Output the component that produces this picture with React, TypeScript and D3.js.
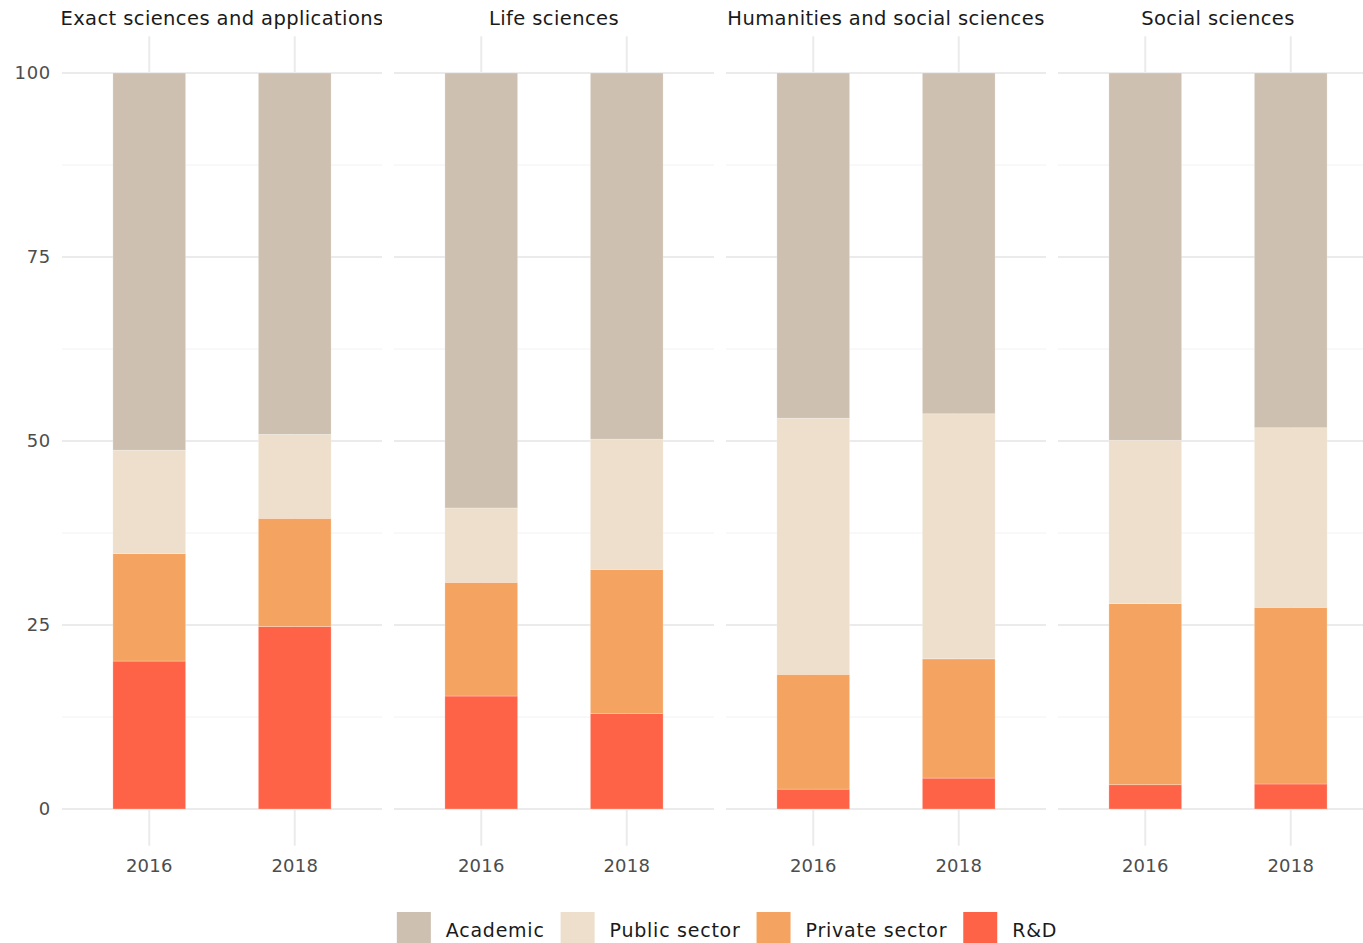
import React, { useEffect, useRef } from "react";
import * as d3 from "d3";

const panels = ["Exact sciences and applications", "Life sciences", "Humanities and social sciences", "Social sciences"];
const years = ["2016", "2018"];
const sectors = ["Academic", "Public sector", "Private sector", "R&D"];
// values per panel, [2016, 2018]
const rnd = [[20.1, 24.8], [15.35, 13.0], [2.7, 4.2], [3.3, 3.4]];
const privateSector = [[14.6, 14.7], [15.45, 19.55], [15.6, 16.2], [24.6, 24.0]];
const publicSector = [[14.05, 11.4], [10.1, 17.7], [34.8, 33.3], [22.2, 24.4]];
const academic = [[51.25, 49.1], [59.1, 49.75], [46.9, 46.3], [49.9, 48.2]];
const yTicks = [0, 25, 50, 75, 100];
const yMinor = [12.5, 37.5, 62.5, 87.5];
const colors = ["#CDC0B0", "#EEDFCC", "#F4A460", "#FF6347"];

const FONT = "'DejaVu Sans', sans-serif";

export default function App() {
  const ref = useRef<SVGSVGElement>(null);
  useEffect(() => {
    const svg = d3.select(ref.current!);
    svg.selectAll("*").remove();
    const panelW = 320, gap = 12, left0 = 62;
    const top = 36.2, bottom = 845.8;
    const y = d3.scaleLinear().domain([-5, 105]).range([bottom, top]);
    const x = d3.scaleBand<string>().domain(years).range([0, panelW]).paddingInner(0.5).paddingOuter(0.35);
    const px = d3.scaleBand<string>().domain(panels).range([left0, left0 + 4 * panelW + 3 * gap]).paddingInner(gap / (panelW + gap)).paddingOuter(0);

    const seriesOrder = [academic, publicSector, privateSector, rnd]; // top to bottom
    panels.forEach((p, pi) => {
      const g = svg.append("g").attr("transform", `translate(${px(p)},0)`);
      yMinor.forEach((v) => {
        g.append("line").attr("x1", 0).attr("x2", panelW).attr("y1", y(v)).attr("y2", y(v))
          .attr("stroke", "#f2f2f2").attr("stroke-width", 1);
      });
      yTicks.forEach((v) => {
        g.append("line").attr("x1", 0).attr("x2", panelW).attr("y1", y(v)).attr("y2", y(v))
          .attr("stroke", "#ebebeb").attr("stroke-width", 2);
      });
      years.forEach((yr) => {
        const cx = x(yr)! + x.bandwidth() / 2;
        g.append("line").attr("x1", cx).attr("x2", cx).attr("y1", top).attr("y2", bottom)
          .attr("stroke", "#ebebeb").attr("stroke-width", 2);
      });
      years.forEach((yr, yi) => {
        let base = 0;
        for (let s = 3; s >= 0; s--) {
          const v = seriesOrder[s][pi][yi];
          g.append("rect")
            .attr("x", x(yr)!)
            .attr("width", x.bandwidth())
            .attr("y", y(base + v))
            .attr("height", y(base) - y(base + v))
            .attr("fill", colors[s])
            .attr("stroke", "#ffffff").attr("stroke-opacity", 0.35).attr("stroke-width", 0.7);
          base += v;
        }
        g.append("text").attr("x", x(yr)! + x.bandwidth() / 2).attr("y", 872)
          .attr("text-anchor", "middle").attr("font-family", FONT).attr("font-size", 18)
          .attr("letter-spacing", 0.2)
          .attr("fill", "#4d4d4d").text(yr);
      });
      const clip = svg.append("clipPath").attr("id", `clip${pi}`);
      clip.append("rect").attr("x", 0).attr("y", 0).attr("width", panelW).attr("height", 40);
      g.append("g").attr("clip-path", `url(#clip${pi})`).append("text")
        .attr("x", panelW / 2).attr("y", 25).attr("text-anchor", "middle")
        .attr("font-family", FONT).attr("font-size", 19.5).attr("letter-spacing", 0.4)
        .attr("fill", "#1a1a1a").text(p);
    });
    yTicks.forEach((v) => {
      svg.append("text").attr("x", 51).attr("y", y(v)).attr("dy", "0.35em")
        .attr("text-anchor", "end").attr("font-family", FONT).attr("font-size", 18)
        .attr("letter-spacing", 0.7)
        .attr("fill", "#4d4d4d").text(String(v));
    });
    const lg = svg.append("g");
    const keyW = 34, keyH = 36, txtGap = 15, itemGap = 16;
    let cur = 0;
    sectors.forEach((s, i) => {
      const ig = lg.append("g").attr("transform", `translate(${cur},0)`);
      ig.append("rect").attr("x", 0).attr("y", 912).attr("width", keyW).attr("height", keyH)
        .attr("fill", colors[i]);
      const t = ig.append("text").attr("x", keyW + txtGap).attr("y", 937)
        .attr("font-family", FONT).attr("font-size", 19).attr("letter-spacing", 0.75)
        .attr("fill", "#1a1a1a").text(s);
      const tw = (t.node() as SVGTextElement).getComputedTextLength();
      cur += keyW + txtGap + tw + itemGap;
    });
    const total = cur - itemGap;
    const start = (398 + 1056) / 2 - total / 2;
    lg.attr("transform", `translate(${start},0)`);
  }, []);
  return (
    <svg ref={ref} width={1363} height={943}
      style={{ position: "absolute", left: 0, top: 0, background: "#ffffff" }} />
  );
}
